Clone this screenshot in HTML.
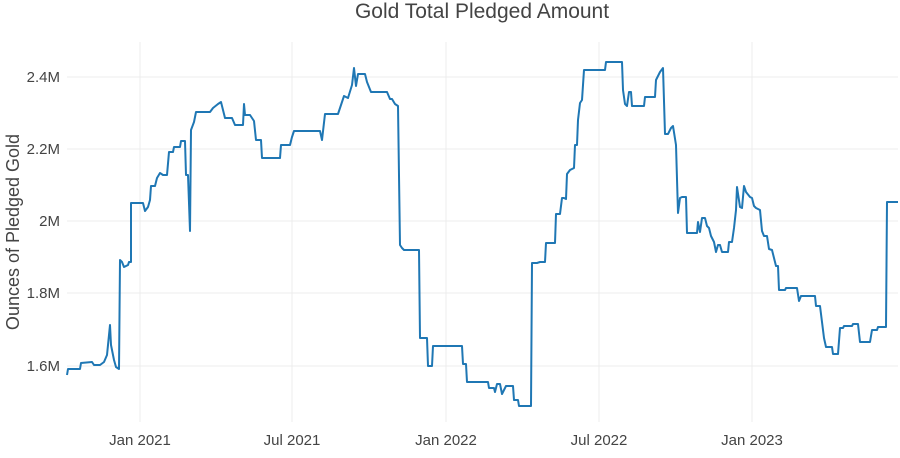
<!DOCTYPE html>
<html><head><style>
body{margin:0;background:#fff;}
svg text{font-family:"Liberation Sans",sans-serif;fill:#444;}
</style></head><body>
<svg width="900" height="453" xmlns="http://www.w3.org/2000/svg">
<rect width="900" height="453" fill="#fff"/>
<text x="482" y="18" font-size="21" text-anchor="middle">Gold Total Pledged Amount</text>
<g stroke="#ececec" stroke-width="1">
<line x1="67" x2="898" y1="77" y2="77"/><line x1="67" x2="898" y1="149" y2="149"/>
<line x1="67" x2="898" y1="221" y2="221"/><line x1="67" x2="898" y1="293" y2="293"/>
<line x1="67" x2="898" y1="366" y2="366"/>
<line x1="140" x2="140" y1="42" y2="422"/><line x1="292" x2="292" y1="42" y2="422"/>
<line x1="446" x2="446" y1="42" y2="422"/><line x1="599" x2="599" y1="42" y2="422"/>
<line x1="752" x2="752" y1="42" y2="422"/>
</g>
<g font-size="15" text-anchor="end">
<text x="60" y="82">2.4M</text><text x="60" y="154">2.2M</text><text x="60" y="226">2M</text>
<text x="60" y="298">1.8M</text><text x="60" y="371">1.6M</text>
</g>
<g font-size="15" text-anchor="middle">
<text x="140" y="445">Jan 2021</text><text x="292" y="445">Jul 2021</text>
<text x="446" y="445">Jan 2022</text><text x="599" y="445">Jul 2022</text>
<text x="752" y="445">Jan 2023</text>
</g>
<text transform="translate(19,232) rotate(-90)" font-size="18" text-anchor="middle">Ounces of Pledged Gold</text>
<polyline fill="none" stroke="#1f77b4" stroke-width="2" stroke-linejoin="round" points="67,375 68,369 80,369 81,363 92,362 94,365 100,365 104,362 107,355 110,325 111,345 114,360 116,367 119,369 120,260 122,262 124,267 128,265 129,262 131,262 131,203 143,203 145,211 148,207 150,200 151,186 155,186 157,178 160,173 163,175 167,175 169,152 173,152 174,147 180,147 181,141 185,141 186,175 188,175 190,231 191,130 194,122 196,112 210,112 213,108 218,104 221,102 223,110 225,118 232,118 235,125 243,125 244,104 245,115 250,115 254,121 256,140 261,140 262,158 280,158 281,145 290,145 292,137 294,131 320,131 322,140 325,114 338,114 340,108 344,96 348,98 352,85 354,68 356,86 358,74 365,74 367,82 371,92 387,92 390,99 392,99 395,104 398,106 400,245 402,248 404,250 419,250 420,338 427,338 428,366 432,366 433,346 462,346 463,364 466,364 467,382 488,382 489,388 494,388 495,392 497,384 500,384 502,394 506,386 513,386 514,400 518,400 519,406 531,406 532,263 537,263 540,262 545,262 546,243 555,243 556,214 560,214 562,198 564,198 566,199 567,174 570,170 574,168 575,145 577,145 578,120 580,103 582,100 584,70 598,70 605,70 606,62 622,62 623,90 625,104 627,106 629,92 631,92 632,106 644,106 645,97 655,97 656,80 660,72 663,68 665,134 668,134 671,128 673,126 676,145 678,213 680,198 682,197 686,197 687,233 697,233 698,222 700,232 702,218 705,218 707,226 709,228 711,236 714,242 716,252 718,245 720,245 722,252 728,252 729,242 732,242 734,228 736,210 737,187 740,207 742,208 744,186 746,192 750,197 752,198 754,206 756,208 760,210 762,231 764,236 767,236 769,249 772,250 774,258 776,266 778,266 779,290 785,290 786,288 797,288 799,301 801,296 815,296 816,306 820,306 822,322 824,338 826,347 832,347 833,354 838,354 840,328 843,328 844,326 852,326 853,324 858,324 860,342 870,342 872,330 877,330 878,327 886,327 887,202 898,202"/>
</svg>
</body></html>
